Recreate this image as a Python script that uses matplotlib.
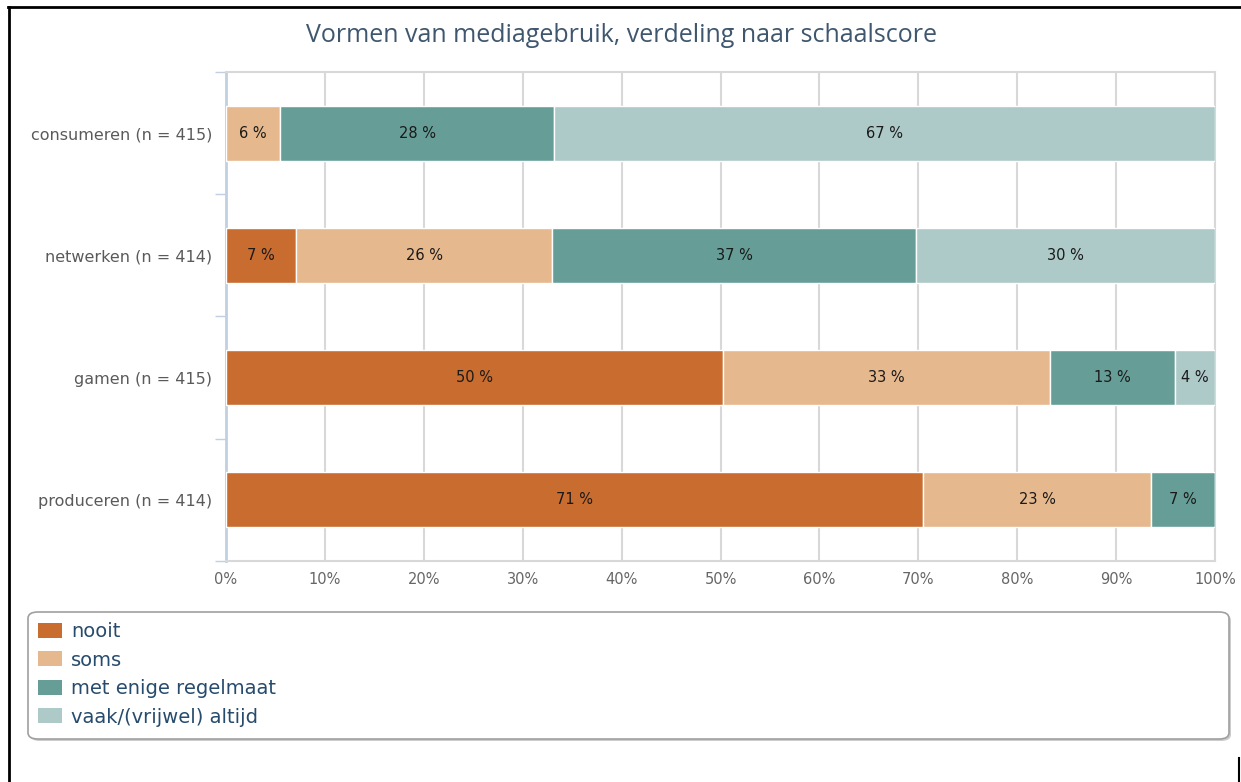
import matplotlib
matplotlib.use("Agg")
import matplotlib.pyplot as plt
import numpy as np
from matplotlib.patches import FancyBboxPatch, Patch
from matplotlib.lines import Line2D

categories = ["consumeren (n = 415)", "netwerken (n = 414)", "gamen (n = 415)", "produceren (n = 414)"]
series_names = ["nooit", "soms", "met enige regelmaat", "vaak/(vrijwel) altijd"]
nooit = [0.0, 7.1, 50.3, 70.5]
soms = [5.5, 25.9, 33.0, 23.0]
regelmaat = [27.7, 36.8, 12.7, 6.5]
vaak = [66.8, 30.2, 4.0, 0.0]
nooit_labels = ["", "7 %", "50 %", "71 %"]
soms_labels = ["6 %", "26 %", "33 %", "23 %"]
regelmaat_labels = ["28 %", "37 %", "13 %", "7 %"]
vaak_labels = ["67 %", "30 %", "4 %", ""]
x_ticks = [0, 10, 20, 30, 40, 50, 60, 70, 80, 90, 100]
x_tick_labels = ["0%", "10%", "20%", "30%", "40%", "50%", "60%", "70%", "80%", "90%", "100%"]
title = "Vormen van mediagebruik, verdeling naar schaalscore"

colors = ["#C96C30", "#E6B88D", "#669E97", "#ADC9C8"]

W, H = 1241, 782
fig = plt.figure(figsize=(W / 100, H / 100), dpi=100)
ax = fig.add_axes([226 / W, 1 - 561 / H, (1215 - 226) / W, (561 - 72) / H])

y = np.arange(len(categories))
data = [nooit, soms, regelmaat, vaak]
labels = [nooit_labels, soms_labels, regelmaat_labels, vaak_labels]
left = np.zeros(len(categories))
for vals, lab, col, name in zip(data, labels, colors, series_names):
    vals = np.array(vals)
    bars = ax.barh(y, vals, left=left, height=0.45, color=col, edgecolor="white",
                   linewidth=1, label=name, zorder=3)
    ax.bar_label(bars, labels=lab, label_type="center", fontsize=10.5,
                 color="#1A1A1A", family="DejaVu Sans", zorder=4)
    left = left + vals

ax.set_xlim(0, 100)
ax.set_ylim(len(categories) - 0.5, -0.5)
ax.set_xticks(x_ticks)
ax.set_xticklabels(x_tick_labels)
ax.set_yticks(y)
ax.set_yticklabels(categories)
ax.set_yticks(np.arange(-0.5, len(categories)), minor=True)
ax.tick_params(axis="y", which="major", length=0, pad=10, labelsize=11.5, labelcolor="#5A5A5A")
ax.tick_params(axis="y", which="minor", length=8, width=1, color="#C0D0E0")
ax.tick_params(axis="x", length=0, pad=8, labelsize=10.5, labelcolor="#666666")
ax.grid(axis="x", color="#D8D8D8", linewidth=1.5, zorder=0)
for s in ["top", "right", "bottom"]:
    ax.spines[s].set_color("#D8D8D8")
    ax.spines[s].set_linewidth(1.5)
ax.spines["left"].set_color("#C0D0E0")
ax.spines["left"].set_linewidth(2)

fig.text(622 / W, 1 - 35 / H, title, ha="center", va="center", fontsize=18,
         color="#3E576F", family="Open Sans")

# legend frame
lx0, ly0, lx1, ly1 = 28 / W, 1 - 739 / H, 1229 / W, 1 - 612 / H
shadow = FancyBboxPatch((lx0 + 2 / W, ly0 - 2 / H), lx1 - lx0, ly1 - ly0,
                        boxstyle="round,pad=0,rounding_size=0.008",
                        transform=fig.transFigure, facecolor="#CCCCCC",
                        edgecolor="none", zorder=0)
frame = FancyBboxPatch((lx0, ly0), lx1 - lx0, ly1 - ly0,
                       boxstyle="round,pad=0,rounding_size=0.008",
                       transform=fig.transFigure, facecolor="white",
                       edgecolor="#A0A0A0", linewidth=1.2, zorder=1)
fig.add_artist(shadow)
fig.add_artist(frame)

handles = [Patch(facecolor=c, edgecolor="none", label=n) for c, n in zip(colors, series_names)]
leg = fig.legend(handles=handles, loc="upper left", bbox_to_anchor=(38 / W, 1 - 622 / H),
                 frameon=False, prop={"family": "DejaVu Sans", "size": 14},
                 handlelength=1.24, handleheight=0.82,
                 handletextpad=0.46, labelspacing=0.49, borderpad=0, borderaxespad=0)
for t in leg.get_texts():
    t.set_color("#274B6D")
leg.set_zorder(2)

# screenshot border lines
fig.add_artist(Line2D([8 / W, 1.0], [1 - 7 / H, 1 - 7 / H], transform=fig.transFigure,
                      color="black", linewidth=2))
fig.add_artist(Line2D([9 / W, 9 / W], [1 - 7 / H, 0], transform=fig.transFigure,
                      color="black", linewidth=2))
fig.add_artist(Line2D([1239 / W, 1239 / W], [1 - 758 / H, 0], transform=fig.transFigure,
                      color="black", linewidth=1.5))

fig.savefig("out.png", dpi=100)
